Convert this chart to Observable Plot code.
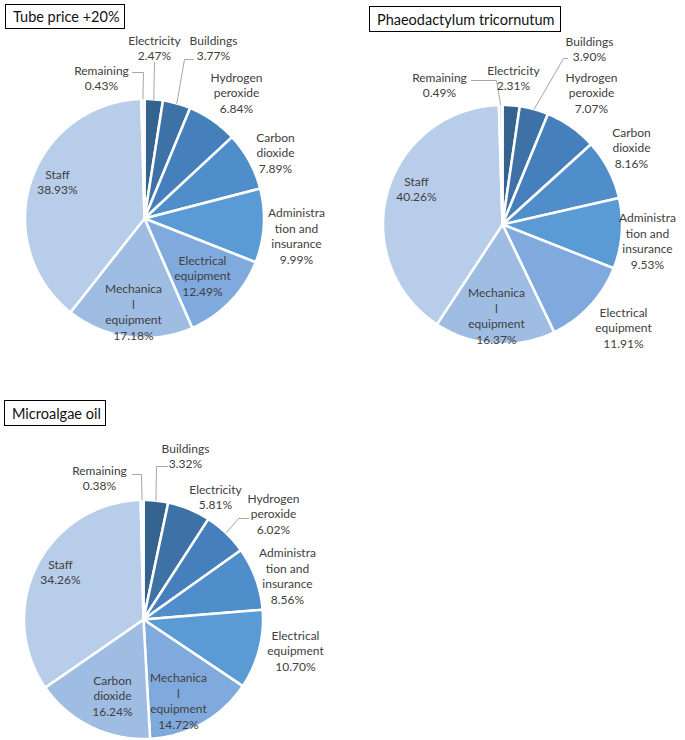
<!DOCTYPE html>
<html><head><meta charset="utf-8">
<script src="https://cdn.jsdelivr.net/npm/d3@7"></script>
<script src="https://cdn.jsdelivr.net/npm/@observablehq/plot@0.6"></script>
<style>
body{margin:0;background:#fff;}
#root{position:relative;width:685px;height:740px;overflow:hidden;font-family:Lato,"Open Sans",sans-serif;}
.title{position:absolute;border:1.5px solid #000;box-sizing:border-box;font-size:14.5px;color:#111;padding-left:7px;display:flex;align-items:center;white-space:nowrap;background:#fff;}
.pie{position:absolute;}
</style></head><body><div id="root"></div>
<script>
// ---- Data ----
const titles = ["Tube price +20%", "Phaeodactylum tricornutum", "Microalgae oil"];

const categories1 = ["Electricity", "Buildings", "Hydrogen peroxide", "Carbon dioxide", "Administration and insurance", "Electrical equipment", "Mechanical equipment", "Staff", "Remaining"];
const values1 = [2.47, 3.77, 6.84, 7.89, 9.99, 12.49, 17.18, 38.93, 0.43];

const categories2 = ["Electricity", "Buildings", "Hydrogen peroxide", "Carbon dioxide", "Administration and insurance", "Electrical equipment", "Mechanical equipment", "Staff", "Remaining"];
const values2 = [2.31, 3.90, 7.07, 8.16, 9.53, 11.91, 16.37, 40.26, 0.49];

const categories3 = ["Buildings", "Electricity", "Hydrogen peroxide", "Administration and insurance", "Electrical equipment", "Mechanical equipment", "Carbon dioxide", "Staff", "Remaining"];
const values3 = [3.32, 5.81, 6.02, 8.56, 10.70, 14.72, 16.24, 34.26, 0.38];

// Excel-style wrapped label text
const wrapText = {
  "Hydrogen peroxide": "Hydrogen\nperoxide",
  "Carbon dioxide": "Carbon\ndioxide",
  "Administration and insurance": "Administra\ntion and\ninsurance",
  "Electrical equipment": "Electrical\nequipment",
  "Mechanical equipment": "Mechanica\nl\nequipment"
};

// ---- Styles / layout ----
const palette = ["#35638f", "#3e72a6", "#4680bc", "#508ecb", "#5b9bd5", "#80aadd", "#9fbde3", "#b7cde9", "#d6e3f3"];
const font = "Lato, 'Open Sans', sans-serif";

const layouts = [
  {left: 0, top: 0, width: 340, height: 370, cx: 144, cy: 218, R: 119.5,
   title: {left: 5, top: 4, width: 120, height: 25},
   labelOffsets: [[10,-171],[69,-171],[92,-126],[131,-66],[152,17],[58,57],[-11,93],[-87,-37],[-43,-141]],
   leaders: {0: [[10,-156]], 1: [[40,-159],[49,-159]], 8: [[-1,-146],[-12,-146]]}},
  {left: 340, top: 0, width: 345, height: 370, cx: 162, cy: 224, R: 119.5,
   title: {left: 369, top: 6, width: 192, height: 26},
   labelOffsets: [[11,-147],[87,-176],[89,-132],[129,-77],[145,16],[121,103],[-6,91],[-86,-36],[-63,-140]],
   leaders: {1: [[61,-166],[65,-166]], 8: [[-6,-144],[-31,-144]]}},
  {left: 0, top: 380, width: 345, height: 360, cx: 143, cy: 239, R: 119.5,
   title: {left: 4, top: 400, width: 102, height: 26},
   labelOffsets: [[42,-164],[72,-123],[130,-106],[144,-44],[152,31],[35,81],[-31,76],[-83,-48],[-44,-142]],
   leaders: {0: [[13,-153],[24,-153]], 2: [[95,-101],[105,-101]], 8: [[-2,-145],[-11,-145]]}}
];

const pies = [
  {categories: categories1, values: values1},
  {categories: categories2, values: values2},
  {categories: categories3, values: values3}
];

const root = document.getElementById("root");

pies.forEach((pie, p) => {
  const L = layouts[p];
  const total = d3.sum(pie.values);
  const slices = [];
  const points = [];
  let acc = 0;
  pie.values.forEach((v, i) => {
    const a0 = acc / total * 2 * Math.PI;
    acc += v;
    const a1 = acc / total * 2 * Math.PI;
    slices.push({i, a0, a1, mid: (a0 + a1) / 2, cat: pie.categories[i], v});
    const n = Math.max(2, Math.ceil((a1 - a0) / (Math.PI / 180)));
    points.push({i, x: 0, y: 0});
    for (let k = 0; k <= n; k++) {
      const a = a0 + (a1 - a0) * k / n;
      points.push({i, x: Math.sin(a), y: -Math.cos(a)});
    }
    points.push({i, x: 0, y: 0});
  });

  const labels = slices.map(s => ({
    x: L.labelOffsets[s.i][0] / L.R,
    y: L.labelOffsets[s.i][1] / L.R,
    text: (wrapText[s.cat] || s.cat) + "\n" + s.v.toFixed(2) + "%"
  }));

  const leaderPts = [];
  Object.entries(L.leaders).forEach(([k, pts]) => {
    const s = slices[+k];
    leaderPts.push({k, x: Math.sin(s.mid), y: -Math.cos(s.mid)});
    pts.forEach(([dx, dy]) => leaderPts.push({k, x: dx / L.R, y: dy / L.R}));
  });

  const chart = Plot.plot({
    width: L.width,
    height: L.height,
    margin: 0,
    style: {background: "transparent", overflow: "visible"},
    x: {axis: null, domain: [-L.cx / L.R, (L.width - L.cx) / L.R]},
    y: {axis: null, domain: [-L.cy / L.R, (L.height - L.cy) / L.R], reverse: true},
    color: {type: "ordinal", domain: d3.range(palette.length), range: palette},
    marks: [
      Plot.line(points, {x: "x", y: "y", z: "i", fill: "i", stroke: "white", strokeWidth: 2.5, strokeLinejoin: "round", curve: "linear"}),
      Plot.line(leaderPts, {x: "x", y: "y", z: "k", stroke: "#a6a6a6", strokeWidth: 1}),
      Plot.text(labels, {x: "x", y: "y", text: "text", fill: "#404040", fontSize: 12, lineHeight: 1.29, fontFamily: font})
    ]
  });
  chart.classList.add("pie");
  chart.style.left = L.left + "px";
  chart.style.top = L.top + "px";
  root.appendChild(chart);

  const t = document.createElement("div");
  t.className = "title";
  t.textContent = titles[p];
  Object.assign(t.style, {left: L.title.left + "px", top: L.title.top + "px", width: L.title.width + "px", height: L.title.height + "px"});
  root.appendChild(t);
});
</script>
</body></html>
